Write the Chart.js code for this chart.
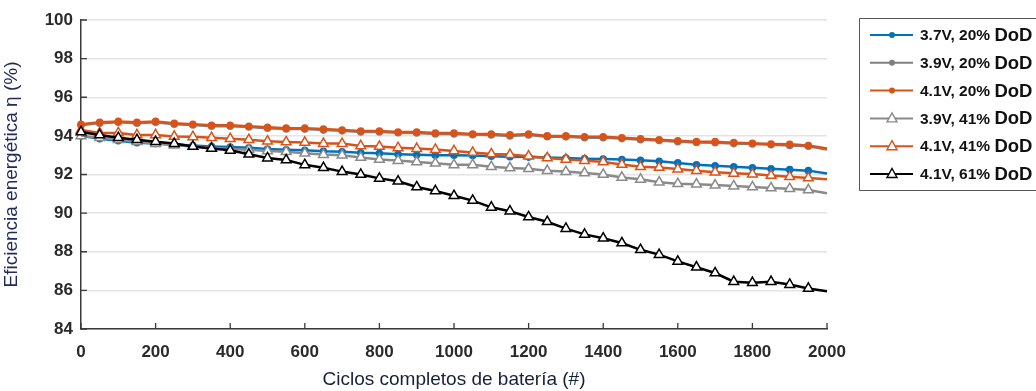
<!DOCTYPE html>
<html>
<head>
<meta charset="utf-8">
<script src="https://cdn.jsdelivr.net/npm/chart.js@4"></script>
<style>
  html,body{margin:0;padding:0;background:#fff;overflow:hidden;}
  #chart{display:block;}
</style>
</head>
<body>
<canvas id="chart" width="1036" height="391"></canvas>
<script>
const $ = (id) => document.getElementById(id);
const FONT = "'Liberation Sans', Arial, sans-serif";

// ciclos completos (marcador cada 50 ciclos, último punto sin marcador)
const ciclos = [0,50,100,150,200,250,300,350,400,450,500,550,600,650,700,750,800,850,900,950,
  1000,1050,1100,1150,1200,1250,1300,1350,1400,1450,1500,1550,1600,1650,1700,1750,1800,1850,1900,1950,2000];

const ef37_20 = [94.0,93.85,93.75,93.65,93.6,93.55,93.5,93.45,93.42,93.38,93.32,93.28,93.25,93.2,93.18,93.12,93.1,93.05,93.02,93.0,
  93.0,92.98,92.95,92.92,92.9,92.88,92.85,92.82,92.8,92.78,92.74,92.68,92.6,92.5,92.45,92.4,92.35,92.3,92.25,92.2,92.05];
const ef39_20 = [94.55,94.66,94.7,94.66,94.7,94.6,94.56,94.5,94.5,94.46,94.4,94.36,94.35,94.3,94.26,94.2,94.2,94.16,94.15,94.1,
  94.1,94.06,94.05,94.0,94.05,93.96,93.95,93.9,93.9,93.86,93.8,93.76,93.7,93.66,93.65,93.6,93.58,93.54,93.5,93.46,93.3];
const ef41_20 = [94.6,94.7,94.75,94.7,94.75,94.65,94.6,94.55,94.55,94.5,94.45,94.4,94.4,94.35,94.3,94.25,94.25,94.2,94.2,94.15,
  94.15,94.1,94.1,94.05,94.1,94.0,94.0,93.95,93.95,93.9,93.85,93.8,93.75,93.7,93.7,93.65,93.62,93.58,93.56,93.5,93.35];
const ef39_41 = [94.0,93.9,93.8,93.7,93.6,93.52,93.45,93.38,93.32,93.28,93.22,93.18,93.1,93.03,93.0,92.88,92.78,92.72,92.65,92.58,
  92.5,92.5,92.4,92.34,92.3,92.2,92.15,92.08,92.0,91.85,91.75,91.6,91.52,91.5,91.45,91.4,91.35,91.3,91.26,91.2,91.03];
const ef41_41 = [94.3,94.15,94.15,94.05,94.05,93.97,93.95,93.9,93.85,93.8,93.72,93.68,93.66,93.6,93.6,93.48,93.45,93.38,93.34,93.29,
  93.22,93.14,93.06,93.03,92.95,92.86,92.78,92.72,92.65,92.52,92.4,92.36,92.28,92.2,92.12,92.06,92.02,91.95,91.88,91.82,91.75];
const ef41_61 = [94.2,94.05,93.9,93.8,93.7,93.6,93.45,93.35,93.25,93.05,92.85,92.75,92.5,92.35,92.15,92.0,91.8,91.65,91.35,91.15,
  90.9,90.65,90.3,90.1,89.8,89.55,89.2,88.9,88.7,88.45,88.1,87.85,87.5,87.2,86.9,86.45,86.4,86.45,86.3,86.1,85.95];

const yTicks = [84,86,88,90,92,94,96,98,100];
const xTicks = [0,200,400,600,800,1000,1200,1400,1600,1800,2000];

const AZUL = '#0072bd', NARANJA = '#d95319', GRIS = '#808080', GRIS2 = '#8a8a8a', NEGRO = '#000';

const pts = (vals) => ciclos.map((c,i) => ({x:c, y:vals[i]}));
const lastless = (r) => (ctx) => ctx.dataIndex === ciclos.length-1 ? 0 : r;

function serie(label, vals, color, tri, order){
  return {
    label, data: pts(vals), order,
    borderColor: color, borderWidth: 2.5, tension: 0, clip: false,
    pointStyle: tri ? 'triangle' : 'circle',
    pointRadius: lastless(tri ? 5.6 : 3.8),
    pointBackgroundColor: tri ? '#fff' : color,
    pointBorderColor: color, pointBorderWidth: tri ? 1.5 : 0,
    pointHoverRadius: 0
  };
}

const datasets = [
  serie('3.7V, 20% DoD', ef37_20, AZUL, false, 6),
  serie('3.9V, 20% DoD', ef39_20, GRIS, false, 5),
  serie('4.1V, 20% DoD', ef41_20, NARANJA, false, 4),
  serie('3.9V, 41% DoD', ef39_41, GRIS2, true, 3),
  serie('4.1V, 41% DoD', ef41_41, NARANJA, true, 2),
  serie('4.1V, 61% DoD', ef41_61, NEGRO, true, 1)
];

// marcas de eje hacia dentro
const innerTicks = {
  id: 'innerTicks',
  afterDraw(chart){
    const {ctx, chartArea:a, scales:{x,y}} = chart;
    ctx.save();
    ctx.strokeStyle = '#3a3a3a'; ctx.lineWidth = 1.3;
    ctx.beginPath();
    for(const t of xTicks){ const px = x.getPixelForValue(t); ctx.moveTo(px, a.bottom); ctx.lineTo(px, a.bottom-6); }
    for(const t of yTicks){ const py = y.getPixelForValue(t); ctx.moveTo(a.left, py); ctx.lineTo(a.left+6, py); }
    ctx.stroke();
    ctx.restore();
  }
};

// leyenda con recuadro a la derecha (abierto por el borde derecho)
const boxLegend = {
  id: 'boxLegend',
  afterDraw(chart){
    const {ctx} = chart;
    const x0 = 859.5, y0 = 18.5, y1 = 190.5, rowH = 27.8, first = 35;
    ctx.save();
    ctx.strokeStyle = '#555'; ctx.lineWidth = 1;
    ctx.beginPath();
    ctx.moveTo(1040, y0); ctx.lineTo(x0, y0); ctx.lineTo(x0, y1); ctx.lineTo(1040, y1);
    ctx.stroke();
    chart.data.datasets.forEach((ds,i) => {
      const cy = first + i*rowH;
      ctx.strokeStyle = ds.borderColor; ctx.lineWidth = 2;
      ctx.beginPath(); ctx.moveTo(870, cy); ctx.lineTo(913, cy); ctx.stroke();
      if(ds.pointStyle === 'triangle'){
        ctx.fillStyle = '#fff'; ctx.strokeStyle = ds.borderColor; ctx.lineWidth = 1.4;
        ctx.beginPath(); ctx.moveTo(892, cy-5.5); ctx.lineTo(897, cy+3.5); ctx.lineTo(887, cy+3.5); ctx.closePath();
        ctx.fill(); ctx.stroke();
      } else {
        ctx.fillStyle = ds.borderColor;
        ctx.beginPath(); ctx.arc(892, cy, 3, 0, Math.PI*2); ctx.fill();
      }
      const [pre] = ds.label.split(' DoD');
      ctx.fillStyle = '#111'; ctx.textBaseline = 'middle'; ctx.textAlign = 'left';
      ctx.font = `bold 15.5px ${FONT}`;
      ctx.fillText(pre, 920, cy+1);
      const w = ctx.measureText(pre + ' ').width;
      ctx.font = `bold 18.5px ${FONT}`;
      ctx.fillText('DoD', 920 + w, cy+1);
    });
    ctx.restore();
  }
};

new Chart($('chart'), {
  type: 'line',
  data: { datasets },
  options: {
    responsive: false, animation: false,
    layout: { padding: { top: 20, right: 209, left: 0, bottom: 0 } },
    plugins: { legend: { display: false }, tooltip: { enabled: false } },
    scales: {
      x: {
        type: 'linear', min: 0, max: 2000,
        afterFit: (s) => { s.height = 62; },
        afterBuildTicks: (s) => { s.ticks = xTicks.map(v => ({value: v})); },
        ticks: { font: { family: FONT, size: 17, weight: 'bold' }, color: '#2a2a2a', padding: 13, maxRotation: 0,
          callback: (v) => String(v) },
        grid: { display: true, drawOnChartArea: false, drawTicks: false },
        border: { color: '#3a3a3a', width: 1.5 },
        title: { display: true, text: 'Ciclos completos de batería (#)', color: '#17203a',
          font: { family: FONT, size: 19 }, padding: { top: 0, bottom: 0 } }
      },
      y: {
        min: 84, max: 100,
        afterFit: (s) => { s.width = 81; },
        afterBuildTicks: (s) => { s.ticks = yTicks.map(v => ({value: v})); },
        ticks: { font: { family: FONT, size: 17, weight: 'bold' }, color: '#2a2a2a', padding: 8,
          callback: (v) => String(v) },
        grid: { color: '#e4e4e4', lineWidth: 1.5, drawTicks: false },
        border: { color: '#3a3a3a', width: 1.5 },
        title: { display: true, text: 'Eficiencia energética η (%)', color: '#222a5a',
          font: { family: FONT, size: 19 }, padding: { top: 0, bottom: 0 } }
      }
    }
  },
  plugins: [innerTicks, boxLegend]
});
</script>
</body>
</html>
